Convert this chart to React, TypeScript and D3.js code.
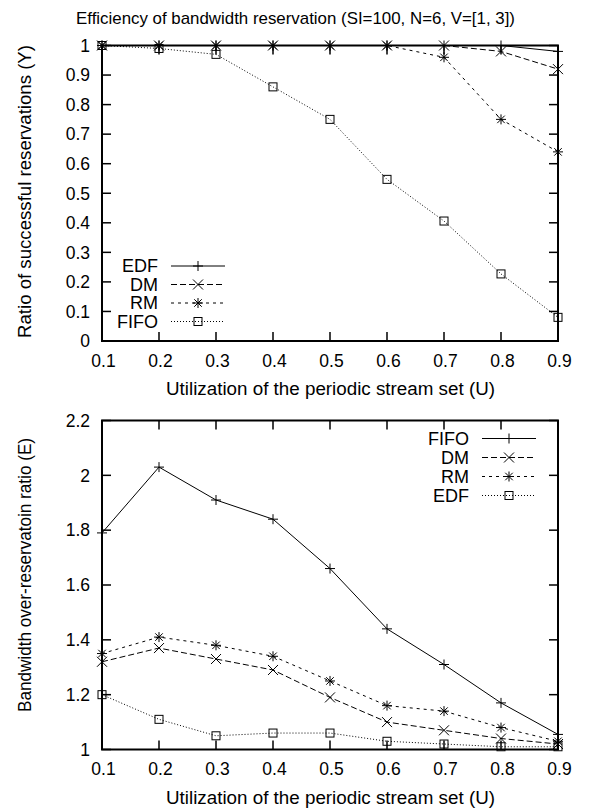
import React from "react";
import * as d3 from "d3";

// utilization values (x axis)
const utilization = [0.1, 0.2, 0.3, 0.4, 0.5, 0.6, 0.7, 0.8, 0.9];

// top chart: ratio of successful reservations
const ratioEDF = [1, 1, 1, 1, 1, 1, 1, 1, 0.98];
const ratioDM = [1, 1, 1, 1, 1, 1, 1, 0.98, 0.92];
const ratioRM = [1, 1, 1, 1, 1, 1, 0.96, 0.75, 0.64];
const ratioFIFO = [1, 0.99, 0.97, 0.86, 0.75, 0.547, 0.406, 0.227, 0.08];

// bottom chart: bandwidth over-reservation ratio
const overFIFO = [1.79, 2.03, 1.91, 1.84, 1.66, 1.44, 1.31, 1.17, 1.055];
const overDM = [1.32, 1.37, 1.33, 1.29, 1.19, 1.1, 1.07, 1.04, 1.02];
const overRM = [1.35, 1.41, 1.38, 1.34, 1.25, 1.16, 1.14, 1.08, 1.03];
const overEDF = [1.2, 1.11, 1.05, 1.06, 1.06, 1.03, 1.02, 1.01, 1.01];

const topYTicks = [0, 0.1, 0.2, 0.3, 0.4, 0.5, 0.6, 0.7, 0.8, 0.9, 1];
const bottomYTicks = [1, 1.2, 1.4, 1.6, 1.8, 2, 2.2];

const FONT = "'Liberation Sans', Arial, sans-serif";

type Marker = "plus" | "cross" | "star" | "square";

function MarkerShape({ kind, x, y }: { kind: Marker; x: number; y: number }) {
  const s = 5;
  const plus = `M${x - s},${y}H${x + s}M${x},${y - s}V${y + s}`;
  const cross = `M${x - s},${y - s}L${x + s},${y + s}M${x - s},${y + s}L${x + s},${y - s}`;
  if (kind === "plus") return <path d={plus} stroke="#000" strokeWidth={1} fill="none" />;
  if (kind === "cross") return <path d={cross} stroke="#000" strokeWidth={1} fill="none" />;
  if (kind === "star") {
    const c = s * 0.75;
    const d = `M${x - s},${y}H${x + s}M${x},${y - s}V${y + s}M${x - c},${y - c}L${x + c},${y + c}M${x - c},${y + c}L${x + c},${y - c}`;
    return <path d={d} stroke="#000" strokeWidth={1} fill="none" />;
  }
  return <rect x={x - 4} y={y - 4} width={8} height={8} stroke="#000" strokeWidth={1} fill="none" />;
}

type Series = { name: string; values: number[]; dash: string; marker: Marker };

function Panel({
  top,
  bottom,
  yDomain,
  yTicks,
  series,
  yLabel,
  yLabelCenter,
  yLabelLength,
  legend,
}: {
  top: number;
  bottom: number;
  yDomain: [number, number];
  yTicks: number[];
  series: Series[];
  yLabel: string;
  yLabelCenter: number;
  yLabelLength: number;
  legend: { textX: number; lineX0: number; lineX1: number; y0: number; step: number };
}) {
  const left = 102;
  const right = 558;
  const x = d3.scaleLinear().domain([0.1, 0.9]).range([left, right]);
  const y = d3.scaleLinear().domain(yDomain).range([bottom, top]);
  const line = d3
    .line<number>()
    .x((d, i) => x(utilization[i]))
    .y((d) => y(d));
  const tick = 9;
  return (
    <g>
      {yTicks.map((t) => (
        <g key={"y" + t}>
          <line x1={left} x2={left + tick} y1={y(t)} y2={y(t)} stroke="#000" strokeWidth={1.5} />
          <line x1={right} x2={right - tick} y1={y(t)} y2={y(t)} stroke="#000" strokeWidth={1.5} />
          <text x={90} y={y(t)} dy="0.36em" textAnchor="end" fontSize={17.5}>
            {d3.format("")(+t.toFixed(1))}
          </text>
        </g>
      ))}
      {utilization.map((t) => (
        <g key={"x" + t}>
          <line x1={x(t)} x2={x(t)} y1={bottom} y2={bottom - tick} stroke="#000" strokeWidth={1.5} />
          <line x1={x(t)} x2={x(t)} y1={top} y2={top + tick} stroke="#000" strokeWidth={1.5} />
          <text x={x(t) + 1.5} y={bottom + 19.5} dy="0.36em" textAnchor="middle" fontSize={17.5}>
            {t.toFixed(1)}
          </text>
        </g>
      ))}
      {series.map((s) => (
        <g key={s.name}>
          <path d={line(s.values) || ""} fill="none" stroke="#000" strokeWidth={1} strokeDasharray={s.dash} />
          {s.values.map((v, i) => (
            <MarkerShape key={i} kind={s.marker} x={x(utilization[i])} y={y(v)} />
          ))}
        </g>
      ))}
      <rect x={left} y={top} width={right - left} height={bottom - top} fill="none" stroke="#000" strokeWidth={2} />
      {series.map((s, i) => {
        const ly = legend.y0 + i * legend.step;
        return (
          <g key={"lg" + s.name}>
            <text x={legend.textX} y={ly} dy="0.36em" textAnchor="end" fontSize={18}>
              {s.name}
            </text>
            <line x1={legend.lineX0} x2={legend.lineX1} y1={ly} y2={ly} stroke="#000" strokeWidth={1} strokeDasharray={s.dash} />
            <MarkerShape kind={s.marker} x={(legend.lineX0 + legend.lineX1) / 2} y={ly} />
          </g>
        );
      })}
      <text
        x={330.5}
        y={bottom + 48}
        dy="0.36em"
        textAnchor="middle"
        fontSize={17.5}
        textLength={329}
        lengthAdjust="spacingAndGlyphs"
      >
        Utilization of the periodic stream set (U)
      </text>
      <text
        transform={`translate(25,${yLabelCenter}) rotate(-90)`}
        textAnchor="middle"
        dy="0.36em"
        fontSize={17.5}
        textLength={yLabelLength}
        lengthAdjust="spacingAndGlyphs"
      >
        {yLabel}
      </text>
    </g>
  );
}

export default function App() {
  const solid = "none";
  const dashed = "6,3";
  const shortDash = "3,4";
  const dotted = "1,2";
  const topSeries: Series[] = [
    { name: "EDF", values: ratioEDF, dash: solid, marker: "plus" },
    { name: "DM", values: ratioDM, dash: dashed, marker: "cross" },
    { name: "RM", values: ratioRM, dash: shortDash, marker: "star" },
    { name: "FIFO", values: ratioFIFO, dash: dotted, marker: "square" },
  ];
  const bottomSeries: Series[] = [
    { name: "FIFO", values: overFIFO, dash: solid, marker: "plus" },
    { name: "DM", values: overDM, dash: dashed, marker: "cross" },
    { name: "RM", values: overRM, dash: shortDash, marker: "star" },
    { name: "EDF", values: overEDF, dash: dotted, marker: "square" },
  ];
  return (
    <svg
      width={591}
      height={810}
      style={{ position: "absolute", left: 0, top: 0, background: "#fff" }}
      fontFamily={FONT}
    >
      <rect width={591} height={810} fill="#fff" />
      <text
        x={295.5}
        y={18}
        dy="0.36em"
        textAnchor="middle"
        fontSize={17}
        textLength={439}
        lengthAdjust="spacingAndGlyphs"
      >
        Efficiency of bandwidth reservation (SI=100, N=6, V=[1, 3])
      </text>
      <Panel
        top={45.5}
        bottom={341}
        yDomain={[0, 1]}
        yTicks={topYTicks}
        series={topSeries}
        yLabel="Ratio of successful reservations (Y)"
        yLabelCenter={191.5}
        yLabelLength={293}
        legend={{ textX: 158, lineX0: 171, lineX1: 225, y0: 266, step: 18.5 }}
      />
      <Panel
        top={420.5}
        bottom={749.5}
        yDomain={[1, 2.2]}
        yTicks={bottomYTicks}
        series={bottomSeries}
        yLabel="Bandwidth over-reservatoin ratio (E)"
        yLabelCenter={575}
        yLabelLength={274}
        legend={{ textX: 469, lineX0: 482, lineX1: 536, y0: 438.5, step: 19 }}
      />
    </svg>
  );
}
